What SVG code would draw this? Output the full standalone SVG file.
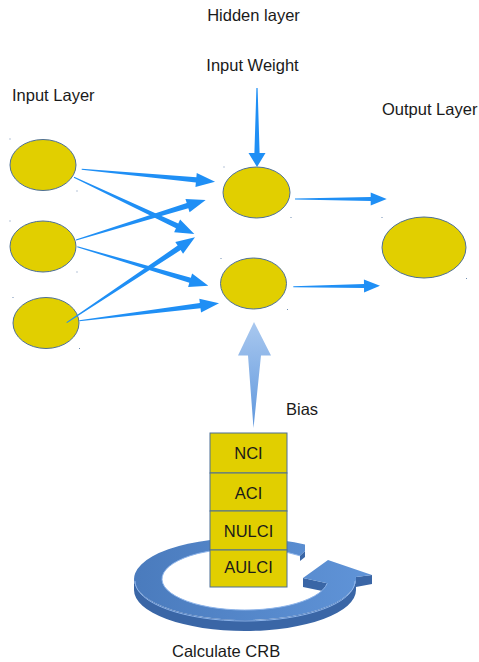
<svg xmlns="http://www.w3.org/2000/svg" width="479" height="662" viewBox="0 0 479 662">
  <style>
    .lbl { font-family: "Liberation Sans", Arial, sans-serif; font-size: 16.5px; fill: #1a1a1a; }
    .mid { text-anchor: middle; }
    .neuron { fill: #e1cf00; stroke: #4d6f96; stroke-width: 1; }
    .cell { fill: #e1cf00; stroke: #4d6f96; stroke-width: 1; }
    .tick { fill: #6f8db3; }
    .wire { fill: #1f8ff5; }
    .wall { fill: #3a66a6; }
    .edge { fill: none; stroke: #8db4ea; stroke-width: 1; }
  </style>
  <defs>
    <linearGradient id="biasGrad" x1="0" y1="0" x2="0" y2="1">
      <stop offset="0" stop-color="#a9c8ef"/>
      <stop offset="1" stop-color="#5f97dd"/>
    </linearGradient>
    <linearGradient id="ringTop" x1="0" y1="0" x2="1" y2="0">
      <stop offset="0" stop-color="#4a7bbd"/>
      <stop offset="1" stop-color="#6094d8"/>
    </linearGradient>
  </defs>

  <!-- titles -->
  <text class="lbl mid" x="253.5" y="21">Hidden layer</text>
  <text class="lbl mid" x="252.5" y="71">Input Weight</text>
  <text class="lbl" x="12" y="101">Input Layer</text>
  <text class="lbl" x="382" y="115">Output Layer</text>

  <!-- input layer -->
  <g id="input1">
    <ellipse class="neuron" cx="43" cy="165" rx="33" ry="25.5"/>
    <rect class="tick" x="9.5" y="138.5" width="1" height="1"/>
    <rect class="tick" x="76.5" y="190.5" width="1" height="1"/>
  </g>
  <g id="input2">
    <ellipse class="neuron" cx="43" cy="246.5" rx="33" ry="25.5"/>
    <rect class="tick" x="9.5" y="220.5" width="1" height="1"/>
    <rect class="tick" x="76.5" y="271.5" width="1" height="1"/>
  </g>
  <g id="input3">
    <ellipse class="neuron" cx="46" cy="323" rx="33" ry="25.5"/>
    <rect class="tick" x="12.5" y="297" width="1" height="1"/>
    <rect class="tick" x="79" y="348" width="1" height="1"/>
  </g>

  <!-- hidden layer -->
  <g id="hidden1">
    <ellipse class="neuron" cx="256.5" cy="192.5" rx="33.5" ry="25.5"/>
    <rect class="tick" x="223.5" y="166.5" width="1" height="1"/>
    <rect class="tick" x="290.5" y="217" width="1" height="1"/>
  </g>
  <g id="hidden2">
    <ellipse class="neuron" cx="253.5" cy="283.5" rx="33" ry="25.5"/>
    <rect class="tick" x="220.5" y="258" width="1" height="1"/>
    <rect class="tick" x="287" y="309" width="1" height="1"/>
  </g>

  <!-- output layer -->
  <g id="output">
    <ellipse class="neuron" cx="424" cy="247.5" rx="42" ry="30.5"/>
    <rect class="tick" x="381.5" y="217" width="1" height="1"/>
    <rect class="tick" x="466" y="278" width="1" height="1"/>
  </g>

  <!-- tapered connectors -->
  <g id="connectors">
    <path class="wire" transform="translate(81.7,169.3) rotate(5.31)" d="M0,-0.5 L114.9,-2.7 L114.9,-7 L133.9,0 L114.9,7 L114.9,2.7 L0,0.5Z"/>
    <path class="wire" transform="translate(74,177.3) rotate(25.23)" d="M0,-0.5 L114,-2.7 L114,-7 L133,0 L114,7 L114,2.7 L0,0.5Z"/>
    <path class="wire" transform="translate(76,240) rotate(-17.14)" d="M0,-0.5 L116.7,-2.7 L116.7,-7 L135.7,0 L116.7,7 L116.7,2.7 L0,0.5Z"/>
    <path class="wire" transform="translate(77.3,246.7) rotate(16.58)" d="M0,-0.5 L117.7,-2.7 L117.7,-7 L136.7,0 L117.7,7 L117.7,2.7 L0,0.5Z"/>
    <path class="wire" transform="translate(66.7,322.7) rotate(-33.64)" d="M0,-0.5 L135.1,-2.7 L135.1,-7 L154.1,0 L135.1,7 L135.1,2.7 L0,0.5Z"/>
    <path class="wire" transform="translate(79.3,320.7) rotate(-7.10)" d="M0,-0.5 L121.8,-2.7 L121.8,-7 L140.8,0 L121.8,7 L121.8,2.7 L0,0.5Z"/>
    <path class="wire" transform="translate(295,199)" d="M0,-0.5 L75.7,-2 L75.7,-6.5 L91.7,0 L75.7,6.5 L75.7,2 L0,0.5Z"/>
    <path class="wire" transform="translate(293.3,286.7) rotate(-0.66)" d="M0,-0.5 L70.7,-2 L70.7,-6.5 L86.7,0 L70.7,6.5 L70.7,2 L0,0.5Z"/>
    <path class="wire" transform="translate(257,88) rotate(90)" d="M0,-0.6 L65,-2.6 L65,-8.5 L79,0 L65,8.5 L65,2.6 L0,0.6Z"/>
    <!-- bias arrow -->
    <path fill="url(#biasGrad)" d="M254,322 L271,355.5 L261,355.5 L253.5,428 L248,355.5 L238,355.5 Z"/>
  </g>

  <text class="lbl" x="286" y="415">Bias</text>

  <!-- circular CRB arrow: side walls, then the top face -->
  <g id="crb-loop">
    <path class="wall" d="M134,579 A111 41 0 0 0 356,579 L356,590 A111 41 0 0 1 134,590 Z"/>
    <path class="wall" d="M303,578 L327.2,583.3 L327.2,592 L303,587 Z"/>
    <path class="wall" d="M355.9,577 L372,575 L372,584 L355.9,587 Z"/>
    <path class="wall" d="M300,555.8 L305,551 L305,557 L300,561 Z"/>
    <path fill="url(#ringTop)" d="M305,544.5 A111 41 0 1 0 355.9,577 L372,575 L328,560 L303,578 L327.2,583.3 A83 31 0 1 1 300,555.8 L305,551 Z"/>
    <path class="edge" d="M327.2,583.3 A83 31 0 1 1 300,555.8"/>
    <path class="edge" d="M135,581 A110 40 0 0 0 355,581"/>
  </g>

  <!-- stacked indices -->
  <g id="stack">
    <g id="nci">
      <rect class="cell" x="210" y="433" width="77" height="40"/>
      <text class="lbl mid" x="248.5" y="459">NCI</text>
    </g>
    <g id="aci">
      <rect class="cell" x="210" y="473" width="77" height="38"/>
      <text class="lbl mid" x="248.5" y="499">ACI</text>
    </g>
    <g id="nulci">
      <rect class="cell" x="210" y="511" width="77" height="39"/>
      <text class="lbl mid" x="248.5" y="537">NULCI</text>
    </g>
    <g id="aulci">
      <rect class="cell" x="210" y="550" width="77" height="37"/>
      <text class="lbl mid" x="248.5" y="573">AULCI</text>
    </g>
  </g>

  <text class="lbl" x="172" y="657">Calculate CRB</text>
</svg>
